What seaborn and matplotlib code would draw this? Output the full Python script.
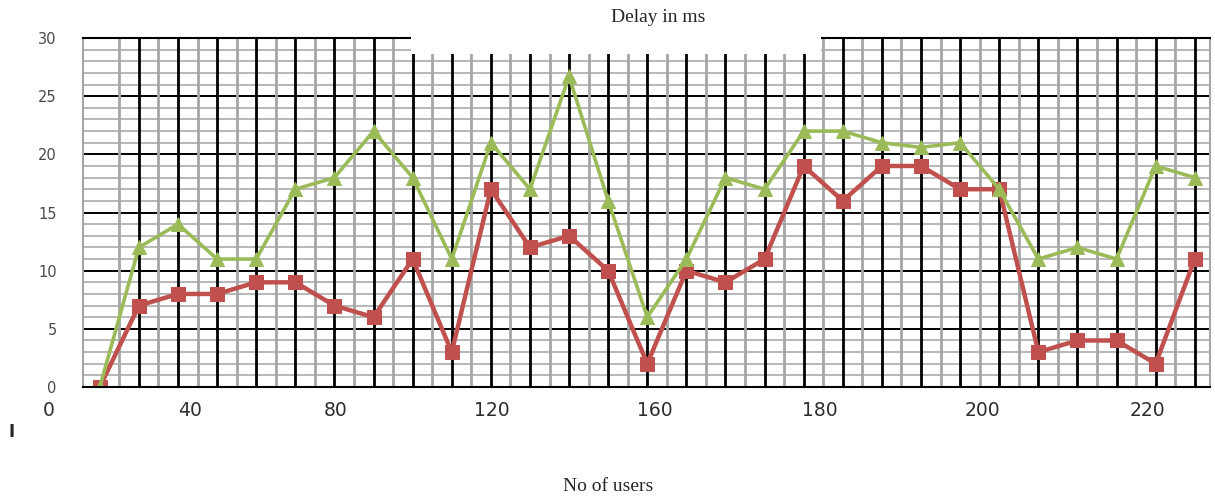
import numpy as np
import pandas as pd
import matplotlib.pyplot as plt
import seaborn as sns
import matplotlib.transforms as mtransforms
from matplotlib.patches import Rectangle
from matplotlib.ticker import FixedLocator, MultipleLocator

# delay (ms) at each sample
red_delay = [0, 7, 8, 8, 9, 9, 7, 6, 11, 3, 17, 12, 13, 10, 2, 10, 9, 11,
             19, 16, 19, 19, 17, 17, 3, 4, 4, 2, 11]
green_delay = [0, 12, 14, 11, 11, 17, 18, 22, 18, 11, 21, 17, 26.7, 16, 6, 11, 18, 17,
               22, 22, 21, 20.6, 21, 17, 11, 12, 11, 19, 18]

# x labels of the original (unevenly placed along the samples)
user_labels = ['0', '40', '80', '120', '160', '180', '200', '220']
label_pos = [-1.3, 2.3, 6.04, 10.03, 14.19, 18.41, 22.56, 26.78]
y_ticks = [0, 5, 10, 15, 20, 25, 30]

df = pd.DataFrame({'sample': np.arange(len(red_delay)),
                   'red': red_delay, 'green': green_delay})

sns.set_style('white')
fig = plt.figure(figsize=(12.15, 4.97), dpi=100, facecolor='white')
ax = fig.add_axes([0.0683, 0.2213, 0.9276, 0.7022])

# grid: black at each sample, grey in between
ax.xaxis.set_major_locator(FixedLocator(np.arange(1, 29)))
ax.xaxis.set_minor_locator(FixedLocator(np.arange(0.5, 28, 1)))
ax.yaxis.set_major_locator(FixedLocator(y_ticks))
ax.yaxis.set_minor_locator(MultipleLocator(1))
ax.grid(which='major', axis='x', color='black', lw=2.0)
ax.grid(which='minor', axis='x', color='#a6a6a6', lw=2.0)
ax.grid(which='major', axis='y', color='black', lw=1.4)
ax.grid(which='minor', axis='y', color='#b8b8b8', lw=1.4)
ax.set_axisbelow(True)
# vertical lines on top of the horizontal ones
ax.yaxis.set_zorder(0.4)

sns.lineplot(data=df, x='sample', y='red', color='#c0504d', lw=3.2,
             marker='s', markersize=10.5, markeredgecolor='#c0504d', ax=ax)
sns.lineplot(data=df, x='sample', y='green', color='#9bbb59', lw=2.6,
             marker='^', markersize=10.5, markeredgecolor='#9bbb59', ax=ax)

ax.set_xlim(-0.43, 28.39)
ax.set_ylim(0, 30)
ax.set_xlabel('')
ax.set_ylabel('')

ax.tick_params(axis='x', which='both', length=0, labelbottom=False)
ax.tick_params(axis='y', which='major', length=7, width=1.3, color='black',
               direction='out', pad=12, labelsize=10.5, labelcolor='#4a4a4a')
ax.tick_params(axis='y', which='minor', length=0)

for side, col in [('left', '#a6a6a6'), ('right', '#a6a6a6'),
                  ('top', 'black'), ('bottom', 'black')]:
    ax.spines[side].set_color(col)
    ax.spines[side].set_linewidth(1.5)

trans = mtransforms.blended_transform_factory(ax.transData, ax.transAxes)
for pos, lab in zip(label_pos, user_labels):
    ax.text(pos, -0.066, lab, transform=trans, ha='center', va='center',
            fontsize=13.5, color='#2e2e2e', clip_on=False)

# white box behind the title that covers the top of the grid
fig.add_artist(Rectangle((411 / 1215, 1 - 54 / 497), 410 / 1215, 54 / 497,
                         transform=fig.transFigure, facecolor='white',
                         edgecolor='none', zorder=3))
fig.text(0.5416, 0.964, 'Delay in ms', family='Liberation Serif', fontsize=14,
         ha='center', va='center', zorder=4)
fig.text(0.5004, 0.022, 'No of users', family='Liberation Serif', fontsize=14,
         ha='center', va='center')
fig.text(0.0099, 0.131, 'I', family='DejaVu Sans', fontsize=12,
         fontweight='bold', ha='center', va='center')

plt.savefig('out.png', dpi=100)
